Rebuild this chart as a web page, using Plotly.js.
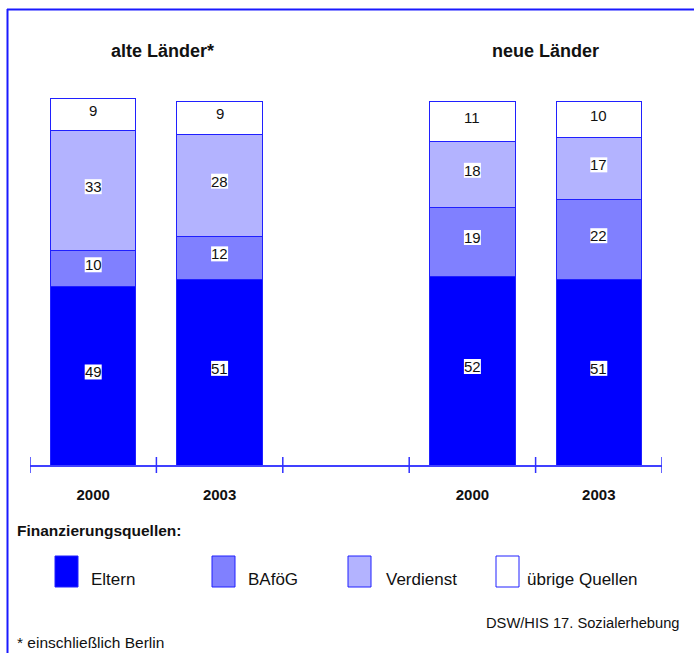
<!DOCTYPE html>
<html><head><meta charset="utf-8">
<script src="https://cdn.plot.ly/plotly-3.0.1.min.js"></script>
<style>html,body{margin:0;padding:0;background:#fff}#chart{width:694px;height:653px}</style>
</head><body><div id="chart"></div>
<script>
// ---- data ----
const xPos = [0, 1, 3, 4];
const yearLabels = ['2000', '2003', '2000', '2003'];
const groupTitles = ['alte Länder*', 'neue Länder'];
const seriesNames = ['Eltern', 'BAföG', 'Verdienst', 'übrige Quellen'];
const eltern = [49, 51, 52, 51];
const bafoeg = [10, 12, 19, 22];
const verdienst = [33, 28, 18, 17];
const uebrige = [9, 9, 11, 10];
const legendTitle = 'Finanzierungsquellen:';
const sourceText = 'DSW/HIS 17. Sozialerhebung';
const footnote = '* einschließlich Berlin';

// ---- style ----
const FONT = '"Liberation Sans", Arial, sans-serif';
const colors = ['#0000ff', '#8080ff', '#b3b3ff', '#ffffff'];
const W = 694, H = 653;
const M = {l: 30, r: 32, t: 98, b: 188};
const PW = W - M.l - M.r, PH = H - M.t - M.b;
const px = x => (x - M.l) / PW;
const py = y => (H - M.b - y) / PH;

const allSeries = [eltern, bafoeg, verdienst, uebrige];
const traces = allSeries.map((vals, i) => ({
  type: 'bar', x: xPos, y: vals, name: seriesNames[i],
  marker: {color: colors[i], line: {color: '#2020ff', width: 1}},
  hoverinfo: 'skip', showlegend: false
}));

const annotations = [];
const shapes = [];
// value labels
xPos.forEach((x, j) => {
  let base = 0;
  allSeries.forEach((vals, i) => {
    const v = vals[j];
    const mid = base + v / 2;
    base += v;
    if (i < 3) {
      shapes.push({type: 'rect', xref: 'x', yref: 'y', layer: 'above',
        xsizemode: 'pixel', ysizemode: 'pixel', xanchor: x, yanchor: mid,
        x0: -8.5, x1: 8.5, y0: -3.5, y1: 11.5,
        fillcolor: '#ffffff', line: {width: 0}});
    }
    annotations.push({xref: 'x', yref: 'y', x: x, y: mid, yshift: 4,
      text: String(v), showarrow: false,
      font: {family: FONT, size: 15, color: '#111'}});
  });
});
// slot boundary ticks
for (let b = -0.5; b <= 4.5; b += 1) {
  shapes.push({type: 'line', xref: 'x', yref: 'paper', x0: b, x1: b,
    y0: -8 / PH, y1: 8 / PH, line: {color: '#3030ff', width: 1.5}});
}
// frame
shapes.push({type: 'line', xref: 'paper', yref: 'paper', x0: px(7.5), x1: px(7.5), y0: py(9), y1: py(700),
  line: {color: '#1a1aff', width: 2}});
shapes.push({type: 'line', xref: 'paper', yref: 'paper', x0: px(7), x1: px(720), y0: py(9.5), y1: py(9.5),
  line: {color: '#1a1aff', width: 2}});
// group titles
const titleX = [162.5, 545];
groupTitles.forEach((t, i) => annotations.push({xref: 'paper', yref: 'paper', x: px(titleX[i]), y: py(51),
  xanchor: 'center', yanchor: 'middle', text: '<b>' + t + '</b>', showarrow: false,
  font: {family: FONT, size: 18, color: '#111'}}));
// legend
annotations.push({xref: 'paper', yref: 'paper', x: px(15), y: py(530), xanchor: 'left', yanchor: 'middle',
  text: '<b>' + legendTitle + '</b>', showarrow: false, font: {family: FONT, size: 15.5, color: '#111'}});
const legSqX = [55, 212, 348, 496];
const legTxtX = [89, 246, 384, 525];
seriesNames.forEach((n, i) => {
  shapes.push({type: 'rect', xref: 'paper', yref: 'paper', x0: px(legSqX[i]), x1: px(legSqX[i] + 23),
    y0: py(587), y1: py(556), fillcolor: colors[i], line: {color: '#2020ff', width: 1}});
  annotations.push({xref: 'paper', yref: 'paper', x: px(legTxtX[i]), y: py(579), xanchor: 'left', yanchor: 'middle',
    text: n, showarrow: false, font: {family: FONT, size: 17, color: '#111'}});
});
annotations.push({xref: 'paper', yref: 'paper', x: px(681), y: py(623), xanchor: 'right', yanchor: 'middle',
  text: sourceText, showarrow: false, font: {family: FONT, size: 14.7, color: '#111'}});
annotations.push({xref: 'paper', yref: 'paper', x: px(15), y: py(642), xanchor: 'left', yanchor: 'middle',
  text: footnote, showarrow: false, font: {family: FONT, size: 15.5, color: '#111'}});

const layout = {
  width: W, height: H, margin: M, barmode: 'stack', bargap: 0.323,
  paper_bgcolor: '#fff', plot_bgcolor: '#fff', showlegend: false,
  font: {family: FONT, color: '#111'},
  xaxis: {range: [-0.5, 4.5], tickvals: xPos, ticktext: yearLabels.map(t => '<b>' + t + '</b>'),
    ticks: '', showgrid: false, zeroline: false, showline: true, linecolor: '#4040ff', linewidth: 1.5,
    tickfont: {family: FONT, size: 15, color: '#111'}, ticklabelstandoff: 15, fixedrange: true},
  yaxis: {range: [0, 101], visible: false, fixedrange: true},
  shapes: shapes, annotations: annotations
};
Plotly.newPlot('chart', traces, layout, {displayModeBar: false, staticPlot: true});
</script></body></html>
